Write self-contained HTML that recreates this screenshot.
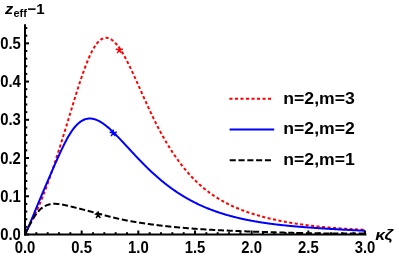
<!DOCTYPE html>
<html><head><meta charset="utf-8"><title>plot</title>
<style>
html,body{margin:0;padding:0;background:#fff;}
body{width:399px;height:256px;overflow:hidden;}
svg{display:block;will-change:transform;}
text{font-family:"Liberation Sans",sans-serif;font-weight:bold;font-size:14.7px;fill:#000;}
</style></head>
<body>
<svg width="399" height="256" viewBox="0 0 399 256">
<rect width="399" height="256" fill="#fff"/>
<!-- curves -->
<path d="M25.00,234.50 L25.57,233.32 L26.13,232.16 L26.70,231.01 L27.27,229.87 L27.83,228.74 L28.40,227.61 L28.97,226.49 L29.53,225.37 L30.10,224.25 L30.67,223.13 L31.23,222.00 L31.80,220.87 L32.37,219.73 L32.93,218.59 L33.50,217.44 L34.07,216.27 L34.63,215.10 L35.20,213.91 L35.77,212.71 L36.33,211.50 L36.90,210.27 L37.47,209.03 L38.03,207.77 L38.60,206.49 L39.17,205.20 L39.73,203.88 L40.30,202.55 L40.87,201.20 L41.43,199.84 L42.00,198.45 L42.57,197.04 L43.13,195.62 L43.70,194.18 L44.27,192.71 L44.83,191.23 L45.40,189.74 L45.97,188.22 L46.53,186.69 L47.10,185.14 L47.67,183.58 L48.23,182.01 L48.80,180.42 L49.37,178.82 L49.93,177.21 L50.50,175.58 L51.07,173.94 L51.63,172.29 L52.20,170.63 L52.77,168.95 L53.33,167.27 L53.90,165.57 L54.47,163.86 L55.03,162.14 L55.60,160.41 L56.17,158.67 L56.73,156.92 L57.30,155.16 L57.87,153.39 L58.43,151.62 L59.00,149.83 L59.57,148.04 L60.13,146.24 L60.70,144.43 L61.27,142.61 L61.83,140.79 L62.40,138.96 L62.97,137.12 L63.53,135.28 L64.10,133.44 L64.67,131.59 L65.23,129.74 L65.80,127.88 L66.37,126.02 L66.93,124.16 L67.50,122.29 L68.07,120.43 L68.63,118.56 L69.20,116.69 L69.77,114.82 L70.33,112.95 L70.90,111.09 L71.47,109.22 L72.03,107.36 L72.60,105.50 L73.17,103.64 L73.73,101.79 L74.30,99.95 L74.87,98.11 L75.43,96.28 L76.00,94.46 L76.57,92.65 L77.13,90.85 L77.70,89.07 L78.27,87.29 L78.83,85.53 L79.40,83.78 L79.97,82.06 L80.53,80.34 L81.10,78.65 L81.67,76.98 L82.23,75.32 L82.80,73.69 L83.37,72.08 L83.93,70.50 L84.50,68.94 L85.07,67.40 L85.63,65.90 L86.20,64.42 L86.77,62.98 L87.33,61.56 L87.90,60.18 L88.47,58.83 L89.03,57.52 L89.60,56.24 L90.17,55.00 L90.73,53.80 L91.30,52.63 L91.87,51.51 L92.43,50.43 L93.00,49.39 L93.57,48.40 L94.13,47.45 L94.70,46.54 L95.27,45.68 L95.83,44.87 L96.40,44.09 L96.97,43.37 L97.53,42.69 L98.10,42.05 L98.67,41.46 L99.23,40.91 L99.80,40.41 L100.37,39.95 L100.93,39.54 L101.50,39.17 L102.07,38.85 L102.63,38.57 L103.20,38.34 L103.77,38.14 L104.33,37.99 L104.90,37.89 L105.47,37.82 L106.03,37.80 L106.60,37.82 L107.17,37.88 L107.73,37.98 L108.30,38.12 L108.87,38.30 L109.43,38.52 L110.00,38.78 L110.57,39.07 L111.13,39.40 L111.70,39.77 L112.27,40.18 L112.83,40.62 L113.40,41.09 L113.97,41.60 L114.53,42.15 L115.10,42.72 L115.67,43.33 L116.23,43.97 L116.80,44.64 L117.37,45.34 L117.93,46.06 L118.50,46.82 L119.07,47.61 L119.63,48.42 L120.20,49.25 L120.77,50.12 L121.33,51.01 L121.90,51.92 L122.47,52.85 L123.03,53.81 L123.60,54.79 L124.17,55.78 L124.73,56.80 L125.30,57.84 L125.87,58.90 L126.43,59.97 L127.00,61.06 L127.57,62.16 L128.13,63.28 L128.70,64.42 L129.27,65.57 L129.83,66.73 L130.40,67.90 L130.97,69.08 L131.53,70.28 L132.10,71.48 L132.67,72.69 L133.23,73.91 L133.80,75.14 L134.37,76.38 L134.93,77.62 L135.50,78.87 L136.07,80.12 L136.63,81.38 L137.20,82.64 L137.77,83.90 L138.33,85.17 L138.90,86.44 L139.47,87.71 L140.03,88.98 L140.60,90.25 L141.17,91.52 L141.73,92.79 L142.30,94.06 L142.87,95.33 L143.43,96.60 L144.00,97.86 L144.57,99.12 L145.13,100.38 L145.70,101.63 L146.27,102.88 L146.83,104.13 L147.40,105.37 L147.97,106.60 L148.53,107.83 L149.10,109.06 L149.67,110.27 L150.23,111.48 L150.80,112.69 L151.37,113.88 L151.93,115.07 L152.50,116.25 L153.07,117.43 L153.63,118.59 L154.20,119.75 L154.77,120.89 L155.33,122.03 L155.90,123.16 L156.47,124.28 L157.03,125.40 L157.60,126.50 L158.17,127.59 L158.73,128.68 L159.30,129.75 L159.87,130.82 L160.43,131.87 L161.00,132.92 L161.57,133.96 L162.13,134.99 L162.70,136.01 L163.27,137.02 L163.83,138.02 L164.40,139.02 L164.97,140.00 L165.53,140.98 L166.10,141.94 L166.67,142.90 L167.23,143.85 L167.80,144.79 L168.37,145.72 L168.93,146.64 L169.50,147.55 L170.07,148.46 L170.63,149.35 L171.20,150.24 L171.77,151.12 L172.33,151.99 L172.90,152.85 L173.47,153.70 L174.03,154.54 L174.60,155.38 L175.17,156.20 L175.73,157.02 L176.30,157.83 L176.87,158.64 L177.43,159.43 L178.00,160.21 L178.57,160.99 L179.13,161.76 L179.70,162.52 L180.27,163.28 L180.83,164.02 L181.40,164.76 L181.97,165.49 L182.53,166.21 L183.10,166.93 L183.67,167.63 L184.23,168.33 L184.80,169.02 L185.37,169.71 L185.93,170.38 L186.50,171.05 L187.07,171.71 L187.63,172.37 L188.20,173.02 L188.77,173.66 L189.33,174.29 L189.90,174.91 L190.47,175.53 L191.03,176.14 L191.60,176.75 L192.17,177.35 L192.73,177.94 L193.30,178.52 L193.87,179.10 L194.43,179.67 L195.00,180.24 L195.57,180.80 L196.13,181.35 L196.70,181.90 L197.27,182.44 L197.83,182.97 L198.40,183.50 L198.97,184.02 L199.53,184.53 L200.10,185.04 L200.67,185.54 L201.23,186.04 L201.80,186.53 L202.37,187.02 L202.93,187.50 L203.50,187.97 L204.07,188.44 L204.63,188.90 L205.20,189.36 L205.77,189.81 L206.33,190.25 L206.90,190.69 L207.47,191.13 L208.03,191.56 L208.60,191.99 L209.17,192.41 L209.73,192.82 L210.30,193.23 L210.87,193.64 L211.43,194.04 L212.00,194.43 L212.57,194.82 L213.13,195.21 L213.70,195.59 L214.27,195.97 L214.83,196.34 L215.40,196.71 L215.97,197.08 L216.53,197.44 L217.10,197.79 L217.67,198.14 L218.23,198.49 L218.80,198.84 L219.37,199.18 L219.93,199.51 L220.50,199.85 L221.07,200.17 L221.63,200.50 L222.20,200.82 L222.77,201.14 L223.33,201.45 L223.90,201.76 L224.47,202.07 L225.03,202.37 L225.60,202.67 L226.17,202.97 L226.73,203.26 L227.30,203.55 L227.87,203.84 L228.43,204.12 L229.00,204.41 L229.57,204.68 L230.13,204.96 L230.70,205.23 L231.27,205.50 L231.83,205.76 L232.40,206.03 L232.97,206.29 L233.53,206.54 L234.10,206.80 L234.67,207.05 L235.23,207.30 L235.80,207.55 L236.37,207.79 L236.93,208.03 L237.50,208.27 L238.07,208.51 L238.63,208.74 L239.20,208.97 L239.77,209.20 L240.33,209.43 L240.90,209.65 L241.47,209.87 L242.03,210.09 L242.60,210.31 L243.17,210.52 L243.73,210.74 L244.30,210.95 L244.87,211.16 L245.43,211.36 L246.00,211.57 L246.57,211.77 L247.13,211.97 L247.70,212.17 L248.27,212.36 L248.83,212.56 L249.40,212.75 L249.97,212.94 L250.53,213.13 L251.10,213.31 L251.67,213.50 L252.23,213.68 L252.80,213.86 L253.37,214.04 L253.93,214.22 L254.50,214.39 L255.07,214.57 L255.63,214.74 L256.20,214.91 L256.77,215.08 L257.33,215.25 L257.90,215.41 L258.47,215.58 L259.03,215.74 L259.60,215.90 L260.17,216.06 L260.73,216.22 L261.30,216.37 L261.87,216.53 L262.43,216.68 L263.00,216.83 L263.57,216.98 L264.13,217.13 L264.70,217.28 L265.27,217.43 L265.83,217.57 L266.40,217.71 L266.97,217.86 L267.53,218.00 L268.10,218.14 L268.67,218.28 L269.23,218.41 L269.80,218.55 L270.37,218.68 L270.93,218.82 L271.50,218.95 L272.07,219.08 L272.63,219.21 L273.20,219.34 L273.77,219.46 L274.33,219.59 L274.90,219.72 L275.47,219.84 L276.03,219.96 L276.60,220.08 L277.17,220.20 L277.73,220.32 L278.30,220.44 L278.87,220.56 L279.43,220.68 L280.00,220.79 L280.57,220.91 L281.13,221.02 L281.70,221.13 L282.27,221.24 L282.83,221.35 L283.40,221.46 L283.97,221.57 L284.53,221.68 L285.10,221.78 L285.67,221.89 L286.23,221.99 L286.80,222.09 L287.37,222.20 L287.93,222.30 L288.50,222.40 L289.07,222.50 L289.63,222.59 L290.20,222.69 L290.77,222.79 L291.33,222.88 L291.90,222.98 L292.47,223.07 L293.03,223.16 L293.60,223.26 L294.17,223.35 L294.73,223.44 L295.30,223.53 L295.87,223.62 L296.43,223.70 L297.00,223.79 L297.57,223.88 L298.13,223.96 L298.70,224.04 L299.27,224.13 L299.83,224.21 L300.40,224.29 L300.97,224.37 L301.53,224.45 L302.10,224.53 L302.67,224.61 L303.23,224.69 L303.80,224.77 L304.37,224.84 L304.93,224.92 L305.50,224.99 L306.07,225.07 L306.63,225.14 L307.20,225.21 L307.77,225.29 L308.33,225.36 L308.90,225.43 L309.47,225.50 L310.03,225.57 L310.60,225.64 L311.17,225.70 L311.73,225.77 L312.30,225.84 L312.87,225.90 L313.43,225.97 L314.00,226.03 L314.57,226.10 L315.13,226.16 L315.70,226.22 L316.27,226.28 L316.83,226.35 L317.40,226.41 L317.97,226.47 L318.53,226.53 L319.10,226.59 L319.67,226.64 L320.23,226.70 L320.80,226.76 L321.37,226.81 L321.93,226.87 L322.50,226.93 L323.07,226.98 L323.63,227.04 L324.20,227.09 L324.77,227.14 L325.33,227.19 L325.90,227.25 L326.47,227.30 L327.03,227.35 L327.60,227.40 L328.17,227.45 L328.73,227.50 L329.30,227.55 L329.87,227.60 L330.43,227.64 L331.00,227.69 L331.57,227.74 L332.13,227.78 L332.70,227.83 L333.27,227.88 L333.83,227.92 L334.40,227.97 L334.97,228.01 L335.53,228.05 L336.10,228.10 L336.67,228.14 L337.23,228.18 L337.80,228.22 L338.37,228.26 L338.93,228.30 L339.50,228.34 L340.07,228.38 L340.63,228.42 L341.20,228.46 L341.77,228.50 L342.33,228.54 L342.90,228.58 L343.47,228.62 L344.03,228.65 L344.60,228.69 L345.17,228.73 L345.73,228.76 L346.30,228.80 L346.87,228.83 L347.43,228.87 L348.00,228.90 L348.57,228.93 L349.13,228.97 L349.70,229.00 L350.27,229.03 L350.83,229.07 L351.40,229.10 L351.97,229.13 L352.53,229.16 L353.10,229.19 L353.67,229.22 L354.23,229.25 L354.80,229.28 L355.37,229.31 L355.93,229.34 L356.50,229.37 L357.07,229.40 L357.63,229.43 L358.20,229.46 L358.77,229.48 L359.33,229.51 L359.90,229.54 L360.47,229.56 L361.03,229.59 L361.60,229.62 L362.17,229.64 L362.73,229.67 L363.30,229.69 L363.87,229.72 L364.43,229.74 L365.00,229.77" fill="none" stroke="#ff0000" stroke-width="2" stroke-dasharray="3.1 2.42"/>
<path d="M25.00,234.50 L25.57,233.30 L26.13,232.08 L26.70,230.84 L27.27,229.58 L27.83,228.31 L28.40,227.01 L28.97,225.71 L29.53,224.39 L30.10,223.05 L30.67,221.71 L31.23,220.36 L31.80,219.00 L32.37,217.63 L32.93,216.26 L33.50,214.89 L34.07,213.51 L34.63,212.13 L35.20,210.75 L35.77,209.37 L36.33,207.99 L36.90,206.62 L37.47,205.24 L38.03,203.87 L38.60,202.50 L39.17,201.13 L39.73,199.77 L40.30,198.42 L40.87,197.06 L41.43,195.71 L42.00,194.37 L42.57,193.03 L43.13,191.70 L43.70,190.37 L44.27,189.04 L44.83,187.72 L45.40,186.40 L45.97,185.08 L46.53,183.76 L47.10,182.45 L47.67,181.14 L48.23,179.82 L48.80,178.51 L49.37,177.20 L49.93,175.88 L50.50,174.57 L51.07,173.26 L51.63,171.95 L52.20,170.64 L52.77,169.34 L53.33,168.03 L53.90,166.73 L54.47,165.44 L55.03,164.14 L55.60,162.86 L56.17,161.57 L56.73,160.30 L57.30,159.03 L57.87,157.76 L58.43,156.50 L59.00,155.26 L59.57,154.02 L60.13,152.79 L60.70,151.57 L61.27,150.36 L61.83,149.17 L62.40,147.98 L62.97,146.82 L63.53,145.66 L64.10,144.52 L64.67,143.40 L65.23,142.29 L65.80,141.21 L66.37,140.14 L66.93,139.09 L67.50,138.07 L68.07,137.06 L68.63,136.08 L69.20,135.12 L69.77,134.19 L70.33,133.28 L70.90,132.40 L71.47,131.55 L72.03,130.72 L72.60,129.93 L73.17,129.16 L73.73,128.41 L74.30,127.70 L74.87,127.01 L75.43,126.35 L76.00,125.72 L76.57,125.12 L77.13,124.54 L77.70,123.99 L78.27,123.47 L78.83,122.98 L79.40,122.52 L79.97,122.08 L80.53,121.67 L81.10,121.28 L81.67,120.93 L82.23,120.59 L82.80,120.29 L83.37,120.01 L83.93,119.76 L84.50,119.53 L85.07,119.32 L85.63,119.14 L86.20,118.99 L86.77,118.86 L87.33,118.75 L87.90,118.67 L88.47,118.60 L89.03,118.56 L89.60,118.55 L90.17,118.55 L90.73,118.58 L91.30,118.62 L91.87,118.69 L92.43,118.77 L93.00,118.88 L93.57,119.00 L94.13,119.14 L94.70,119.30 L95.27,119.48 L95.83,119.68 L96.40,119.89 L96.97,120.12 L97.53,120.37 L98.10,120.63 L98.67,120.90 L99.23,121.20 L99.80,121.50 L100.37,121.83 L100.93,122.16 L101.50,122.51 L102.07,122.87 L102.63,123.25 L103.20,123.63 L103.77,124.03 L104.33,124.45 L104.90,124.87 L105.47,125.30 L106.03,125.75 L106.60,126.20 L107.17,126.67 L107.73,127.14 L108.30,127.62 L108.87,128.12 L109.43,128.62 L110.00,129.12 L110.57,129.64 L111.13,130.16 L111.70,130.69 L112.27,131.23 L112.83,131.78 L113.40,132.33 L113.97,132.88 L114.53,133.44 L115.10,134.01 L115.67,134.58 L116.23,135.15 L116.80,135.73 L117.37,136.32 L117.93,136.90 L118.50,137.49 L119.07,138.09 L119.63,138.68 L120.20,139.28 L120.77,139.88 L121.33,140.48 L121.90,141.09 L122.47,141.69 L123.03,142.30 L123.60,142.91 L124.17,143.52 L124.73,144.13 L125.30,144.74 L125.87,145.35 L126.43,145.96 L127.00,146.58 L127.57,147.19 L128.13,147.80 L128.70,148.42 L129.27,149.03 L129.83,149.64 L130.40,150.25 L130.97,150.86 L131.53,151.47 L132.10,152.08 L132.67,152.69 L133.23,153.30 L133.80,153.91 L134.37,154.51 L134.93,155.11 L135.50,155.72 L136.07,156.32 L136.63,156.92 L137.20,157.52 L137.77,158.11 L138.33,158.71 L138.90,159.30 L139.47,159.89 L140.03,160.47 L140.60,161.06 L141.17,161.64 L141.73,162.22 L142.30,162.80 L142.87,163.38 L143.43,163.95 L144.00,164.52 L144.57,165.09 L145.13,165.66 L145.70,166.22 L146.27,166.78 L146.83,167.34 L147.40,167.89 L147.97,168.44 L148.53,168.99 L149.10,169.54 L149.67,170.08 L150.23,170.62 L150.80,171.15 L151.37,171.68 L151.93,172.21 L152.50,172.74 L153.07,173.26 L153.63,173.78 L154.20,174.30 L154.77,174.81 L155.33,175.32 L155.90,175.82 L156.47,176.32 L157.03,176.82 L157.60,177.32 L158.17,177.81 L158.73,178.30 L159.30,178.78 L159.87,179.26 L160.43,179.74 L161.00,180.21 L161.57,180.68 L162.13,181.15 L162.70,181.61 L163.27,182.07 L163.83,182.53 L164.40,182.98 L164.97,183.43 L165.53,183.88 L166.10,184.32 L166.67,184.76 L167.23,185.20 L167.80,185.63 L168.37,186.06 L168.93,186.49 L169.50,186.91 L170.07,187.33 L170.63,187.74 L171.20,188.16 L171.77,188.56 L172.33,188.97 L172.90,189.37 L173.47,189.77 L174.03,190.17 L174.60,190.56 L175.17,190.95 L175.73,191.34 L176.30,191.72 L176.87,192.10 L177.43,192.47 L178.00,192.85 L178.57,193.22 L179.13,193.58 L179.70,193.95 L180.27,194.31 L180.83,194.67 L181.40,195.02 L181.97,195.37 L182.53,195.72 L183.10,196.07 L183.67,196.41 L184.23,196.75 L184.80,197.08 L185.37,197.42 L185.93,197.75 L186.50,198.07 L187.07,198.40 L187.63,198.72 L188.20,199.04 L188.77,199.35 L189.33,199.67 L189.90,199.98 L190.47,200.28 L191.03,200.59 L191.60,200.89 L192.17,201.19 L192.73,201.48 L193.30,201.78 L193.87,202.07 L194.43,202.36 L195.00,202.64 L195.57,202.92 L196.13,203.20 L196.70,203.48 L197.27,203.76 L197.83,204.03 L198.40,204.30 L198.97,204.56 L199.53,204.83 L200.10,205.09 L200.67,205.35 L201.23,205.61 L201.80,205.86 L202.37,206.11 L202.93,206.36 L203.50,206.61 L204.07,206.86 L204.63,207.10 L205.20,207.34 L205.77,207.58 L206.33,207.81 L206.90,208.05 L207.47,208.28 L208.03,208.51 L208.60,208.73 L209.17,208.96 L209.73,209.18 L210.30,209.40 L210.87,209.62 L211.43,209.83 L212.00,210.05 L212.57,210.26 L213.13,210.47 L213.70,210.68 L214.27,210.88 L214.83,211.09 L215.40,211.29 L215.97,211.49 L216.53,211.68 L217.10,211.88 L217.67,212.07 L218.23,212.26 L218.80,212.45 L219.37,212.64 L219.93,212.83 L220.50,213.01 L221.07,213.20 L221.63,213.38 L222.20,213.56 L222.77,213.73 L223.33,213.91 L223.90,214.08 L224.47,214.25 L225.03,214.42 L225.60,214.59 L226.17,214.76 L226.73,214.92 L227.30,215.09 L227.87,215.25 L228.43,215.41 L229.00,215.57 L229.57,215.73 L230.13,215.88 L230.70,216.03 L231.27,216.19 L231.83,216.34 L232.40,216.49 L232.97,216.64 L233.53,216.78 L234.10,216.93 L234.67,217.07 L235.23,217.21 L235.80,217.35 L236.37,217.49 L236.93,217.63 L237.50,217.77 L238.07,217.90 L238.63,218.04 L239.20,218.17 L239.77,218.30 L240.33,218.43 L240.90,218.56 L241.47,218.68 L242.03,218.81 L242.60,218.93 L243.17,219.06 L243.73,219.18 L244.30,219.30 L244.87,219.42 L245.43,219.54 L246.00,219.66 L246.57,219.77 L247.13,219.89 L247.70,220.00 L248.27,220.11 L248.83,220.23 L249.40,220.34 L249.97,220.45 L250.53,220.55 L251.10,220.66 L251.67,220.77 L252.23,220.87 L252.80,220.97 L253.37,221.08 L253.93,221.18 L254.50,221.28 L255.07,221.38 L255.63,221.48 L256.20,221.58 L256.77,221.67 L257.33,221.77 L257.90,221.86 L258.47,221.96 L259.03,222.05 L259.60,222.14 L260.17,222.23 L260.73,222.32 L261.30,222.41 L261.87,222.50 L262.43,222.59 L263.00,222.67 L263.57,222.76 L264.13,222.84 L264.70,222.93 L265.27,223.01 L265.83,223.09 L266.40,223.17 L266.97,223.25 L267.53,223.33 L268.10,223.41 L268.67,223.49 L269.23,223.57 L269.80,223.64 L270.37,223.72 L270.93,223.79 L271.50,223.87 L272.07,223.94 L272.63,224.01 L273.20,224.09 L273.77,224.16 L274.33,224.23 L274.90,224.30 L275.47,224.37 L276.03,224.43 L276.60,224.50 L277.17,224.57 L277.73,224.64 L278.30,224.70 L278.87,224.77 L279.43,224.83 L280.00,224.89 L280.57,224.96 L281.13,225.02 L281.70,225.08 L282.27,225.14 L282.83,225.20 L283.40,225.26 L283.97,225.32 L284.53,225.38 L285.10,225.44 L285.67,225.50 L286.23,225.55 L286.80,225.61 L287.37,225.67 L287.93,225.72 L288.50,225.78 L289.07,225.83 L289.63,225.89 L290.20,225.94 L290.77,226.00 L291.33,226.05 L291.90,226.10 L292.47,226.15 L293.03,226.21 L293.60,226.26 L294.17,226.31 L294.73,226.36 L295.30,226.41 L295.87,226.46 L296.43,226.51 L297.00,226.56 L297.57,226.60 L298.13,226.65 L298.70,226.70 L299.27,226.75 L299.83,226.79 L300.40,226.84 L300.97,226.89 L301.53,226.93 L302.10,226.98 L302.67,227.02 L303.23,227.07 L303.80,227.11 L304.37,227.16 L304.93,227.20 L305.50,227.24 L306.07,227.29 L306.63,227.33 L307.20,227.37 L307.77,227.42 L308.33,227.46 L308.90,227.50 L309.47,227.54 L310.03,227.58 L310.60,227.62 L311.17,227.67 L311.73,227.71 L312.30,227.75 L312.87,227.79 L313.43,227.83 L314.00,227.87 L314.57,227.90 L315.13,227.94 L315.70,227.98 L316.27,228.02 L316.83,228.06 L317.40,228.10 L317.97,228.14 L318.53,228.17 L319.10,228.21 L319.67,228.25 L320.23,228.29 L320.80,228.32 L321.37,228.36 L321.93,228.40 L322.50,228.43 L323.07,228.47 L323.63,228.50 L324.20,228.54 L324.77,228.58 L325.33,228.61 L325.90,228.65 L326.47,228.68 L327.03,228.72 L327.60,228.75 L328.17,228.79 L328.73,228.82 L329.30,228.85 L329.87,228.89 L330.43,228.92 L331.00,228.96 L331.57,228.99 L332.13,229.02 L332.70,229.06 L333.27,229.09 L333.83,229.12 L334.40,229.15 L334.97,229.19 L335.53,229.22 L336.10,229.25 L336.67,229.28 L337.23,229.32 L337.80,229.35 L338.37,229.38 L338.93,229.41 L339.50,229.44 L340.07,229.48 L340.63,229.51 L341.20,229.54 L341.77,229.57 L342.33,229.60 L342.90,229.63 L343.47,229.66 L344.03,229.69 L344.60,229.72 L345.17,229.75 L345.73,229.78 L346.30,229.81 L346.87,229.84 L347.43,229.87 L348.00,229.90 L348.57,229.93 L349.13,229.96 L349.70,229.99 L350.27,230.02 L350.83,230.05 L351.40,230.08 L351.97,230.11 L352.53,230.14 L353.10,230.17 L353.67,230.20 L354.23,230.23 L354.80,230.25 L355.37,230.28 L355.93,230.31 L356.50,230.34 L357.07,230.37 L357.63,230.40 L358.20,230.42 L358.77,230.45 L359.33,230.48 L359.90,230.51 L360.47,230.54 L361.03,230.56 L361.60,230.59 L362.17,230.62 L362.73,230.65 L363.30,230.67 L363.87,230.70 L364.43,230.73 L365.00,230.76" fill="none" stroke="#0000ff" stroke-width="2"/>
<path d="M25.00,234.50 L25.57,233.31 L26.13,232.12 L26.70,230.93 L27.27,229.75 L27.83,228.59 L28.40,227.43 L28.97,226.30 L29.53,225.18 L30.10,224.08 L30.67,223.01 L31.23,221.95 L31.80,220.93 L32.37,219.93 L32.93,218.96 L33.50,218.03 L34.07,217.12 L34.63,216.25 L35.20,215.41 L35.77,214.60 L36.33,213.82 L36.90,213.08 L37.47,212.38 L38.03,211.70 L38.60,211.06 L39.17,210.46 L39.73,209.89 L40.30,209.35 L40.87,208.84 L41.43,208.36 L42.00,207.92 L42.57,207.50 L43.13,207.11 L43.70,206.75 L44.27,206.42 L44.83,206.11 L45.40,205.82 L45.97,205.56 L46.53,205.33 L47.10,205.11 L47.67,204.91 L48.23,204.74 L48.80,204.58 L49.37,204.43 L49.93,204.31 L50.50,204.20 L51.07,204.11 L51.63,204.03 L52.20,203.96 L52.77,203.91 L53.33,203.87 L53.90,203.85 L54.47,203.84 L55.03,203.83 L55.60,203.84 L56.17,203.86 L56.73,203.89 L57.30,203.93 L57.87,203.98 L58.43,204.03 L59.00,204.09 L59.57,204.16 L60.13,204.24 L60.70,204.33 L61.27,204.42 L61.83,204.51 L62.40,204.61 L62.97,204.72 L63.53,204.83 L64.10,204.94 L64.67,205.06 L65.23,205.18 L65.80,205.30 L66.37,205.43 L66.93,205.56 L67.50,205.69 L68.07,205.83 L68.63,205.96 L69.20,206.10 L69.77,206.23 L70.33,206.37 L70.90,206.51 L71.47,206.65 L72.03,206.79 L72.60,206.93 L73.17,207.07 L73.73,207.21 L74.30,207.35 L74.87,207.50 L75.43,207.64 L76.00,207.78 L76.57,207.92 L77.13,208.07 L77.70,208.21 L78.27,208.35 L78.83,208.50 L79.40,208.64 L79.97,208.78 L80.53,208.93 L81.10,209.07 L81.67,209.22 L82.23,209.36 L82.80,209.51 L83.37,209.65 L83.93,209.80 L84.50,209.95 L85.07,210.09 L85.63,210.24 L86.20,210.39 L86.77,210.53 L87.33,210.68 L87.90,210.83 L88.47,210.98 L89.03,211.13 L89.60,211.28 L90.17,211.43 L90.73,211.58 L91.30,211.73 L91.87,211.88 L92.43,212.03 L93.00,212.18 L93.57,212.34 L94.13,212.49 L94.70,212.64 L95.27,212.80 L95.83,212.95 L96.40,213.11 L96.97,213.26 L97.53,213.41 L98.10,213.57 L98.67,213.72 L99.23,213.88 L99.80,214.03 L100.37,214.18 L100.93,214.34 L101.50,214.49 L102.07,214.64 L102.63,214.79 L103.20,214.95 L103.77,215.10 L104.33,215.25 L104.90,215.40 L105.47,215.55 L106.03,215.70 L106.60,215.84 L107.17,215.99 L107.73,216.14 L108.30,216.28 L108.87,216.43 L109.43,216.57 L110.00,216.72 L110.57,216.86 L111.13,217.00 L111.70,217.14 L112.27,217.28 L112.83,217.42 L113.40,217.55 L113.97,217.69 L114.53,217.83 L115.10,217.96 L115.67,218.09 L116.23,218.22 L116.80,218.35 L117.37,218.48 L117.93,218.61 L118.50,218.74 L119.07,218.87 L119.63,218.99 L120.20,219.11 L120.77,219.24 L121.33,219.36 L121.90,219.48 L122.47,219.60 L123.03,219.71 L123.60,219.83 L124.17,219.95 L124.73,220.06 L125.30,220.17 L125.87,220.28 L126.43,220.40 L127.00,220.51 L127.57,220.61 L128.13,220.72 L128.70,220.83 L129.27,220.93 L129.83,221.04 L130.40,221.14 L130.97,221.24 L131.53,221.34 L132.10,221.45 L132.67,221.55 L133.23,221.64 L133.80,221.74 L134.37,221.84 L134.93,221.93 L135.50,222.03 L136.07,222.12 L136.63,222.22 L137.20,222.31 L137.77,222.40 L138.33,222.49 L138.90,222.58 L139.47,222.67 L140.03,222.76 L140.60,222.85 L141.17,222.94 L141.73,223.02 L142.30,223.11 L142.87,223.19 L143.43,223.28 L144.00,223.36 L144.57,223.44 L145.13,223.53 L145.70,223.61 L146.27,223.69 L146.83,223.77 L147.40,223.85 L147.97,223.93 L148.53,224.00 L149.10,224.08 L149.67,224.16 L150.23,224.24 L150.80,224.31 L151.37,224.39 L151.93,224.46 L152.50,224.54 L153.07,224.61 L153.63,224.68 L154.20,224.76 L154.77,224.83 L155.33,224.90 L155.90,224.97 L156.47,225.04 L157.03,225.11 L157.60,225.18 L158.17,225.25 L158.73,225.32 L159.30,225.39 L159.87,225.45 L160.43,225.52 L161.00,225.59 L161.57,225.65 L162.13,225.72 L162.70,225.78 L163.27,225.85 L163.83,225.91 L164.40,225.98 L164.97,226.04 L165.53,226.10 L166.10,226.17 L166.67,226.23 L167.23,226.29 L167.80,226.35 L168.37,226.41 L168.93,226.47 L169.50,226.53 L170.07,226.59 L170.63,226.65 L171.20,226.70 L171.77,226.76 L172.33,226.82 L172.90,226.88 L173.47,226.93 L174.03,226.99 L174.60,227.04 L175.17,227.10 L175.73,227.15 L176.30,227.21 L176.87,227.26 L177.43,227.31 L178.00,227.37 L178.57,227.42 L179.13,227.47 L179.70,227.52 L180.27,227.57 L180.83,227.62 L181.40,227.67 L181.97,227.72 L182.53,227.77 L183.10,227.82 L183.67,227.87 L184.23,227.92 L184.80,227.96 L185.37,228.01 L185.93,228.06 L186.50,228.10 L187.07,228.15 L187.63,228.20 L188.20,228.24 L188.77,228.29 L189.33,228.33 L189.90,228.37 L190.47,228.42 L191.03,228.46 L191.60,228.50 L192.17,228.55 L192.73,228.59 L193.30,228.63 L193.87,228.67 L194.43,228.71 L195.00,228.75 L195.57,228.80 L196.13,228.84 L196.70,228.88 L197.27,228.91 L197.83,228.95 L198.40,228.99 L198.97,229.03 L199.53,229.07 L200.10,229.11 L200.67,229.14 L201.23,229.18 L201.80,229.22 L202.37,229.25 L202.93,229.29 L203.50,229.33 L204.07,229.36 L204.63,229.40 L205.20,229.43 L205.77,229.47 L206.33,229.50 L206.90,229.53 L207.47,229.57 L208.03,229.60 L208.60,229.63 L209.17,229.67 L209.73,229.70 L210.30,229.73 L210.87,229.76 L211.43,229.79 L212.00,229.82 L212.57,229.86 L213.13,229.89 L213.70,229.92 L214.27,229.95 L214.83,229.98 L215.40,230.01 L215.97,230.04 L216.53,230.07 L217.10,230.10 L217.67,230.12 L218.23,230.15 L218.80,230.18 L219.37,230.21 L219.93,230.24 L220.50,230.27 L221.07,230.29 L221.63,230.32 L222.20,230.35 L222.77,230.38 L223.33,230.40 L223.90,230.43 L224.47,230.46 L225.03,230.48 L225.60,230.51 L226.17,230.53 L226.73,230.56 L227.30,230.59 L227.87,230.61 L228.43,230.64 L229.00,230.66 L229.57,230.69 L230.13,230.71 L230.70,230.74 L231.27,230.76 L231.83,230.79 L232.40,230.81 L232.97,230.83 L233.53,230.86 L234.10,230.88 L234.67,230.91 L235.23,230.93 L235.80,230.95 L236.37,230.98 L236.93,231.00 L237.50,231.02 L238.07,231.05 L238.63,231.07 L239.20,231.09 L239.77,231.11 L240.33,231.14 L240.90,231.16 L241.47,231.18 L242.03,231.20 L242.60,231.23 L243.17,231.25 L243.73,231.27 L244.30,231.29 L244.87,231.31 L245.43,231.33 L246.00,231.36 L246.57,231.38 L247.13,231.40 L247.70,231.42 L248.27,231.44 L248.83,231.46 L249.40,231.48 L249.97,231.50 L250.53,231.52 L251.10,231.55 L251.67,231.57 L252.23,231.59 L252.80,231.61 L253.37,231.63 L253.93,231.65 L254.50,231.67 L255.07,231.69 L255.63,231.71 L256.20,231.73 L256.77,231.75 L257.33,231.77 L257.90,231.79 L258.47,231.81 L259.03,231.83 L259.60,231.85 L260.17,231.87 L260.73,231.89 L261.30,231.90 L261.87,231.92 L262.43,231.94 L263.00,231.96 L263.57,231.98 L264.13,232.00 L264.70,232.02 L265.27,232.04 L265.83,232.06 L266.40,232.08 L266.97,232.09 L267.53,232.11 L268.10,232.13 L268.67,232.15 L269.23,232.17 L269.80,232.19 L270.37,232.20 L270.93,232.22 L271.50,232.24 L272.07,232.26 L272.63,232.28 L273.20,232.30 L273.77,232.31 L274.33,232.33 L274.90,232.35 L275.47,232.37 L276.03,232.38 L276.60,232.40 L277.17,232.42 L277.73,232.44 L278.30,232.45 L278.87,232.47 L279.43,232.49 L280.00,232.51 L280.57,232.52 L281.13,232.54 L281.70,232.56 L282.27,232.57 L282.83,232.59 L283.40,232.61 L283.97,232.62 L284.53,232.64 L285.10,232.65 L285.67,232.67 L286.23,232.69 L286.80,232.70 L287.37,232.72 L287.93,232.73 L288.50,232.75 L289.07,232.76 L289.63,232.78 L290.20,232.79 L290.77,232.81 L291.33,232.82 L291.90,232.84 L292.47,232.85 L293.03,232.87 L293.60,232.88 L294.17,232.90 L294.73,232.91 L295.30,232.92 L295.87,232.94 L296.43,232.95 L297.00,232.96 L297.57,232.98 L298.13,232.99 L298.70,233.00 L299.27,233.02 L299.83,233.03 L300.40,233.04 L300.97,233.05 L301.53,233.07 L302.10,233.08 L302.67,233.09 L303.23,233.10 L303.80,233.11 L304.37,233.12 L304.93,233.14 L305.50,233.15 L306.07,233.16 L306.63,233.17 L307.20,233.18 L307.77,233.19 L308.33,233.20 L308.90,233.21 L309.47,233.22 L310.03,233.23 L310.60,233.24 L311.17,233.25 L311.73,233.26 L312.30,233.27 L312.87,233.28 L313.43,233.29 L314.00,233.30 L314.57,233.31 L315.13,233.31 L315.70,233.32 L316.27,233.33 L316.83,233.34 L317.40,233.35 L317.97,233.36 L318.53,233.36 L319.10,233.37 L319.67,233.38 L320.23,233.39 L320.80,233.39 L321.37,233.40 L321.93,233.41 L322.50,233.42 L323.07,233.42 L323.63,233.43 L324.20,233.44 L324.77,233.44 L325.33,233.45 L325.90,233.46 L326.47,233.46 L327.03,233.47 L327.60,233.47 L328.17,233.48 L328.73,233.48 L329.30,233.49 L329.87,233.50 L330.43,233.50 L331.00,233.51 L331.57,233.51 L332.13,233.51 L332.70,233.52 L333.27,233.52 L333.83,233.53 L334.40,233.53 L334.97,233.54 L335.53,233.54 L336.10,233.54 L336.67,233.55 L337.23,233.55 L337.80,233.56 L338.37,233.56 L338.93,233.56 L339.50,233.57 L340.07,233.57 L340.63,233.57 L341.20,233.57 L341.77,233.58 L342.33,233.58 L342.90,233.58 L343.47,233.58 L344.03,233.59 L344.60,233.59 L345.17,233.59 L345.73,233.59 L346.30,233.59 L346.87,233.59 L347.43,233.60 L348.00,233.60 L348.57,233.60 L349.13,233.60 L349.70,233.60 L350.27,233.60 L350.83,233.60 L351.40,233.60 L351.97,233.60 L352.53,233.60 L353.10,233.60 L353.67,233.60 L354.23,233.60 L354.80,233.60 L355.37,233.60 L355.93,233.60 L356.50,233.60 L357.07,233.60 L357.63,233.60 L358.20,233.59 L358.77,233.59 L359.33,233.59 L359.90,233.59 L360.47,233.59 L361.03,233.58 L361.60,233.58 L362.17,233.58 L362.73,233.58 L363.30,233.57 L363.87,233.57 L364.43,233.57 L365.00,233.56" fill="none" stroke="#000" stroke-width="2" stroke-dasharray="6.1 2.7"/>
<!-- axes -->
<g stroke="#000" stroke-width="2" fill="none">
<line x1="25.00" y1="24.20" x2="25.00" y2="235.50"/>
<line x1="24.00" y1="234.50" x2="366.40" y2="234.50"/>
</g>
<g stroke="#000" stroke-width="2" fill="none">
<line x1="25.00" y1="234.50" x2="25.00" y2="230.50"/><line x1="36.33" y1="234.50" x2="36.33" y2="232.20"/><line x1="47.67" y1="234.50" x2="47.67" y2="232.20"/><line x1="59.00" y1="234.50" x2="59.00" y2="232.20"/><line x1="70.33" y1="234.50" x2="70.33" y2="232.20"/><line x1="81.67" y1="234.50" x2="81.67" y2="230.50"/><line x1="93.00" y1="234.50" x2="93.00" y2="232.20"/><line x1="104.33" y1="234.50" x2="104.33" y2="232.20"/><line x1="115.67" y1="234.50" x2="115.67" y2="232.20"/><line x1="127.00" y1="234.50" x2="127.00" y2="232.20"/><line x1="138.33" y1="234.50" x2="138.33" y2="230.50"/><line x1="149.67" y1="234.50" x2="149.67" y2="232.20"/><line x1="161.00" y1="234.50" x2="161.00" y2="232.20"/><line x1="172.33" y1="234.50" x2="172.33" y2="232.20"/><line x1="183.67" y1="234.50" x2="183.67" y2="232.20"/><line x1="195.00" y1="234.50" x2="195.00" y2="230.50"/><line x1="206.33" y1="234.50" x2="206.33" y2="232.20"/><line x1="217.67" y1="234.50" x2="217.67" y2="232.20"/><line x1="229.00" y1="234.50" x2="229.00" y2="232.20"/><line x1="240.33" y1="234.50" x2="240.33" y2="232.20"/><line x1="251.67" y1="234.50" x2="251.67" y2="230.50"/><line x1="263.00" y1="234.50" x2="263.00" y2="232.20"/><line x1="274.33" y1="234.50" x2="274.33" y2="232.20"/><line x1="285.67" y1="234.50" x2="285.67" y2="232.20"/><line x1="297.00" y1="234.50" x2="297.00" y2="232.20"/><line x1="308.33" y1="234.50" x2="308.33" y2="230.50"/><line x1="319.67" y1="234.50" x2="319.67" y2="232.20"/><line x1="331.00" y1="234.50" x2="331.00" y2="232.20"/><line x1="342.33" y1="234.50" x2="342.33" y2="232.20"/><line x1="353.67" y1="234.50" x2="353.67" y2="232.20"/><line x1="365.00" y1="234.50" x2="365.00" y2="230.50"/><line x1="25.00" y1="234.50" x2="29.00" y2="234.50"/><line x1="25.00" y1="226.85" x2="27.30" y2="226.85"/><line x1="25.00" y1="219.21" x2="27.30" y2="219.21"/><line x1="25.00" y1="211.56" x2="27.30" y2="211.56"/><line x1="25.00" y1="203.91" x2="27.30" y2="203.91"/><line x1="25.00" y1="196.26" x2="29.00" y2="196.26"/><line x1="25.00" y1="188.62" x2="27.30" y2="188.62"/><line x1="25.00" y1="180.97" x2="27.30" y2="180.97"/><line x1="25.00" y1="173.32" x2="27.30" y2="173.32"/><line x1="25.00" y1="165.67" x2="27.30" y2="165.67"/><line x1="25.00" y1="158.03" x2="29.00" y2="158.03"/><line x1="25.00" y1="150.38" x2="27.30" y2="150.38"/><line x1="25.00" y1="142.73" x2="27.30" y2="142.73"/><line x1="25.00" y1="135.09" x2="27.30" y2="135.09"/><line x1="25.00" y1="127.44" x2="27.30" y2="127.44"/><line x1="25.00" y1="119.79" x2="29.00" y2="119.79"/><line x1="25.00" y1="112.14" x2="27.30" y2="112.14"/><line x1="25.00" y1="104.50" x2="27.30" y2="104.50"/><line x1="25.00" y1="96.85" x2="27.30" y2="96.85"/><line x1="25.00" y1="89.20" x2="27.30" y2="89.20"/><line x1="25.00" y1="81.55" x2="29.00" y2="81.55"/><line x1="25.00" y1="73.91" x2="27.30" y2="73.91"/><line x1="25.00" y1="66.26" x2="27.30" y2="66.26"/><line x1="25.00" y1="58.61" x2="27.30" y2="58.61"/><line x1="25.00" y1="50.97" x2="27.30" y2="50.97"/><line x1="25.00" y1="43.32" x2="29.00" y2="43.32"/><line x1="25.00" y1="35.67" x2="27.30" y2="35.67"/><line x1="25.00" y1="28.02" x2="27.30" y2="28.02"/>
</g>
<!-- markers -->
<path d="M119.30,50.10 L119.30,46.40 M119.30,50.10 L115.78,48.96 M119.30,50.10 L117.13,53.09 M119.30,50.10 L121.47,53.09 M119.30,50.10 L122.82,48.96" stroke="#ff0000" stroke-width="1.45" fill="none" stroke-linecap="butt"/>
<path d="M113.20,133.20 L113.20,129.50 M113.20,133.20 L109.68,132.06 M113.20,133.20 L111.03,136.19 M113.20,133.20 L115.37,136.19 M113.20,133.20 L116.72,132.06" stroke="#0000ff" stroke-width="1.45" fill="none" stroke-linecap="butt"/>
<path d="M98.20,215.00 L98.20,211.30 M98.20,215.00 L94.68,213.86 M98.20,215.00 L96.03,217.99 M98.20,215.00 L100.37,217.99 M98.20,215.00 L101.72,213.86" stroke="#000" stroke-width="1.45" fill="none" stroke-linecap="butt"/>
<!-- labels -->
<g><text transform="translate(25.00,252.5) scale(0.93,1)" text-anchor="middle" style="font-size:16.0px">0.0</text><text transform="translate(81.67,252.5) scale(0.93,1)" text-anchor="middle" style="font-size:16.0px">0.5</text><text transform="translate(138.33,252.5) scale(0.93,1)" text-anchor="middle" style="font-size:16.0px">1.0</text><text transform="translate(195.00,252.5) scale(0.93,1)" text-anchor="middle" style="font-size:16.0px">1.5</text><text transform="translate(251.67,252.5) scale(0.93,1)" text-anchor="middle" style="font-size:16.0px">2.0</text><text transform="translate(308.33,252.5) scale(0.93,1)" text-anchor="middle" style="font-size:16.0px">2.5</text><text transform="translate(365.00,252.5) scale(0.93,1)" text-anchor="middle" style="font-size:16.0px">3.0</text></g>
<g><text transform="translate(20.9,240.00) scale(0.93,1)" text-anchor="end" style="font-size:16.0px">0.0</text><text transform="translate(20.9,201.76) scale(0.93,1)" text-anchor="end" style="font-size:16.0px">0.1</text><text transform="translate(20.9,163.53) scale(0.93,1)" text-anchor="end" style="font-size:16.0px">0.2</text><text transform="translate(20.9,125.29) scale(0.93,1)" text-anchor="end" style="font-size:16.0px">0.3</text><text transform="translate(20.9,87.05) scale(0.93,1)" text-anchor="end" style="font-size:16.0px">0.4</text><text transform="translate(20.9,48.82) scale(0.93,1)" text-anchor="end" style="font-size:16.0px">0.5</text></g>
<text transform="translate(5.1,13.5) scale(1.08,0.97)" style="font-size:15.3px;font-style:italic">z</text>
<text x="13.5" y="16.6" style="font-size:11px">eff</text>
<text x="27.6" y="13.5" style="font-size:15px">−1</text>
<text transform="translate(375.3,239.5) scale(1.08,0.95)" x="0" y="0" style="font-size:16px;font-style:italic">κζ</text>
<!-- legend -->
<g fill="none" stroke-width="2">
<line x1="229.4" y1="98.7" x2="273" y2="98.7" stroke="#ff0000" stroke-dasharray="3.1 2.42"/>
<line x1="229.6" y1="129.6" x2="274.2" y2="129.6" stroke="#0000ff"/>
<line x1="229.7" y1="160.3" x2="273" y2="160.3" stroke="#000" stroke-dasharray="6.1 2.7"/>
</g>
<text transform="translate(283.3,103.6) scale(1.075,1)" style="font-size:16.4px">n=2,m=3</text>
<text transform="translate(283.3,134.4) scale(1.075,1)" style="font-size:16.4px">n=2,m=2</text>
<text transform="translate(283.3,165.2) scale(1.075,1)" style="font-size:16.4px">n=2,m=1</text>
</svg>
</body></html>
